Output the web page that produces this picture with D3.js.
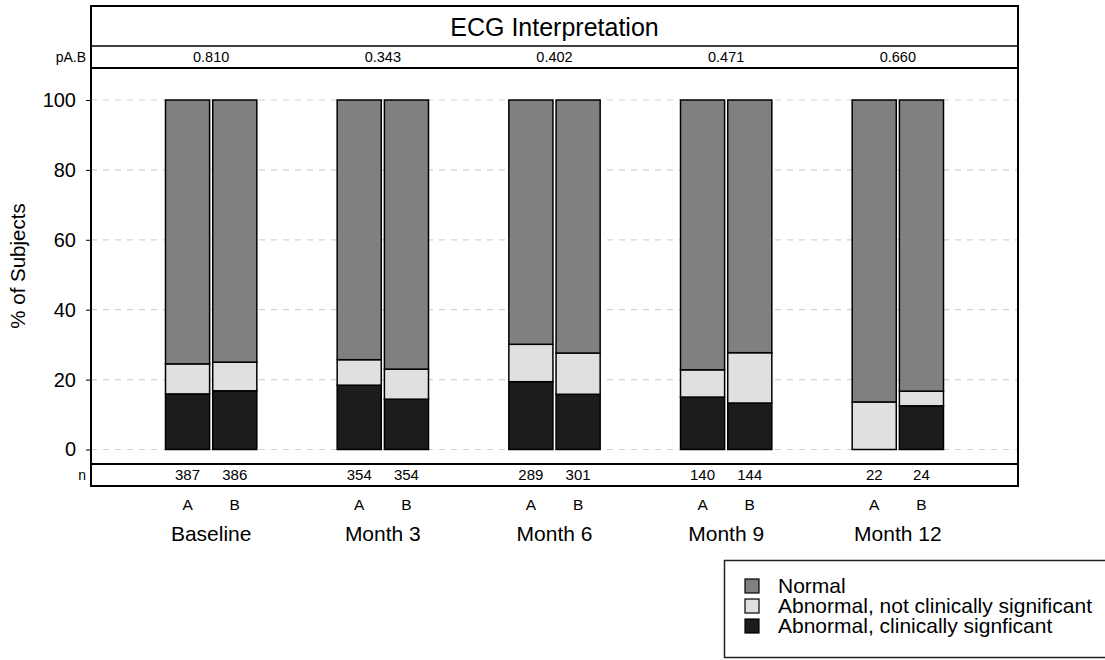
<!DOCTYPE html>
<html>
<head>
<meta charset="utf-8">
<script src="https://cdn.jsdelivr.net/npm/d3@7"></script>
<style>
  body { margin: 0; background: #fff; }
  svg { display: block; font-family: "Liberation Sans", Arial, sans-serif; }
</style>
</head>
<body>
<svg id="chart" width="1105" height="660"></svg>
<script>
// ---- data ----
const visits = ["Baseline", "Month 3", "Month 6", "Month 9", "Month 12"];
const groups = ["A", "B"];
const pValues = ["0.810", "0.343", "0.402", "0.471", "0.660"];
const nA = [387, 354, 289, 140, 22];
const nB = [386, 354, 301, 144, 24];
// percentages per visit
const clinSigA    = [15.9, 18.4, 19.4, 15.0, 0.0];
const clinSigB    = [16.8, 14.4, 15.8, 13.3, 12.5];
const notClinSigA = [8.6, 7.3, 10.7, 7.8, 13.6];
const notClinSigB = [8.2, 8.6, 11.8, 14.4, 4.2];
const yTicks = [0, 20, 40, 60, 80, 100];
const categoriesLegend = ["Normal", "Abnormal, not clinically significant", "Abnormal, clinically signficant"];
const colors = { "Normal": "#808080", "Abnormal, not clinically significant": "#e0e0e0", "Abnormal, clinically signficant": "#1c1c1c" };

// ---- build records ----
const records = [];
visits.forEach((v, i) => {
  [["A", clinSigA[i], notClinSigA[i], nA[i]], ["B", clinSigB[i], notClinSigB[i], nB[i]]].forEach(([g, cs, ncs, n]) => {
    records.push({ visit: v, idx: i, group: g, n: n, cs: cs, ncs: ncs, normal: 100 - cs - ncs });
  });
});

const svg = d3.select("#chart");
const L = 91, R = 1018, TOP = 6, TITLE_B = 46, P_B = 68, PLOT_B = 464, N_B = 486;

const x = d3.scaleLinear().domain([0.3, visits.length + 0.7]).range([L, R]);
const step = x(2) - x(1);
const inner = d3.scaleBand().domain(groups).range([-0.266 * step, 0.266 * step]).paddingInner(0.066);
const y = d3.scaleLinear().domain([0, 100]).range([449.5, 100]);

// gridlines
svg.append("g").selectAll("line").data(yTicks).join("line")
  .attr("x1", L).attr("x2", R)
  .attr("y1", d => y(d)).attr("y2", d => y(d))
  .attr("stroke", "#d3d3d3").attr("stroke-width", 1.2).attr("stroke-dasharray", "6,6");

// y axis
const yAxis = d3.axisLeft(y).tickValues(yTicks).tickSize(5).tickPadding(10);
const ya = svg.append("g").attr("transform", `translate(${L},0)`).call(yAxis);
ya.select(".domain").remove();
ya.selectAll(".tick line").attr("stroke", "#000").attr("stroke-width", 1);
ya.selectAll(".tick text").attr("font-size", 20).attr("fill", "#000").attr("font-family", "Liberation Sans, Arial, sans-serif");

// y title
svg.append("text")
  .attr("transform", `translate(25,${(P_B + PLOT_B) / 2}) rotate(-90)`)
  .attr("text-anchor", "middle").attr("font-size", 20.5).text("% of Subjects");

// stacked bars
const stackKeys = ["cs", "ncs", "normal"];
const keyColor = { cs: colors[categoriesLegend[2]], ncs: colors[categoriesLegend[1]], normal: colors[categoriesLegend[0]] };
const barG = svg.append("g");
records.forEach(r => {
  let base = 0;
  stackKeys.forEach(k => {
    const v = r[k];
    if (v > 0) {
      barG.append("rect")
        .attr("x", x(r.idx + 1) + inner(r.group))
        .attr("width", inner.bandwidth())
        .attr("y", y(base + v))
        .attr("height", y(base) - y(base + v))
        .attr("fill", keyColor[k])
        .attr("stroke", "#000").attr("stroke-width", 1.5);
    }
    base += v;
  });
});

// frame lines
const frame = svg.append("g").attr("fill", "none").attr("stroke", "#000");
frame.append("rect").attr("x", L).attr("y", TOP).attr("width", R - L).attr("height", N_B - TOP).attr("stroke-width", 2);
frame.append("line").attr("x1", L).attr("x2", R).attr("y1", TITLE_B).attr("y2", TITLE_B).attr("stroke-width", 1.5);
frame.append("line").attr("x1", L).attr("x2", R).attr("y1", P_B).attr("y2", P_B).attr("stroke-width", 2);
frame.append("line").attr("x1", L).attr("x2", R).attr("y1", PLOT_B).attr("y2", PLOT_B).attr("stroke-width", 2);

// title
svg.append("text").attr("x", (L + R) / 2).attr("y", 36).attr("text-anchor", "middle")
  .attr("font-size", 25).text("ECG Interpretation");

// p values
svg.append("text").attr("x", 86).attr("y", 62).attr("text-anchor", "end").attr("font-size", 14).text("pA.B");
svg.append("g").selectAll("text").data(pValues).join("text")
  .attr("x", (d, i) => x(i + 1)).attr("y", 62).attr("text-anchor", "middle")
  .attr("font-size", 14.5).text(d => d);

// n values
svg.append("text").attr("x", 86).attr("y", 480).attr("text-anchor", "end").attr("font-size", 14).text("n");
svg.append("g").selectAll("text").data(records).join("text")
  .attr("x", d => x(d.idx + 1) + inner(d.group) + inner.bandwidth() / 2).attr("y", 480)
  .attr("text-anchor", "middle").attr("font-size", 15).text(d => d.n);

// group labels
svg.append("g").selectAll("text").data(records).join("text")
  .attr("x", d => x(d.idx + 1) + inner(d.group) + inner.bandwidth() / 2).attr("y", 510)
  .attr("text-anchor", "middle").attr("font-size", 15.5).text(d => d.group);

// visit labels
svg.append("g").selectAll("text").data(visits).join("text")
  .attr("x", (d, i) => x(i + 1)).attr("y", 541)
  .attr("text-anchor", "middle").attr("font-size", 21).text(d => d);

// legend
const lg = svg.append("g");
lg.append("rect").attr("x", 724.5).attr("y", 560.5).attr("width", 400).attr("height", 97)
  .attr("fill", "#fff").attr("stroke", "#222").attr("stroke-width", 1.5);
categoriesLegend.forEach((c, i) => {
  lg.append("rect").attr("x", 745).attr("y", 579 + i * 20).attr("width", 14).attr("height", 14)
    .attr("fill", colors[c]).attr("stroke", "#000").attr("stroke-width", 1.2);
  lg.append("text").attr("x", 778).attr("y", 593 + i * 20).attr("font-size", 21).text(c);
});
</script>
</body>
</html>
